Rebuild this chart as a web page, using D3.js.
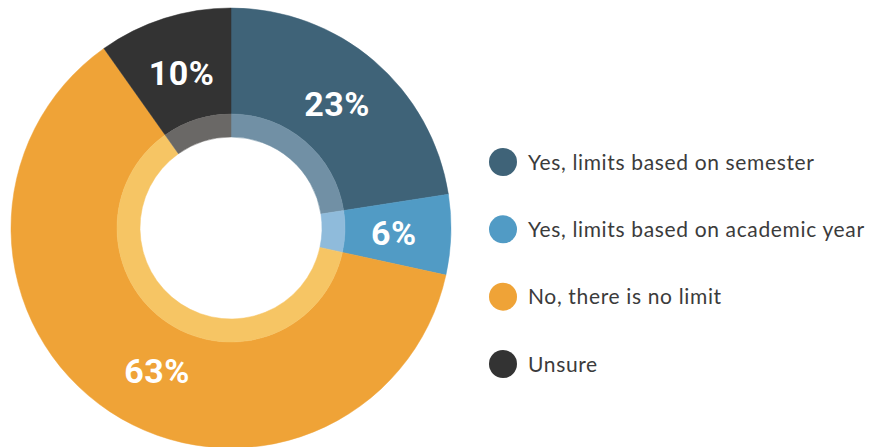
<!DOCTYPE html>
<html>
<head>
<meta charset="utf-8">
<script src="https://cdn.jsdelivr.net/npm/d3@7/dist/d3.min.js"></script>
<style>
  html, body { margin: 0; padding: 0; background: #ffffff; }
  svg { display: block; }
</style>
</head>
<body>
<svg id="chart" width="873" height="447"></svg>
<script>
// Survey answers and their shares
const categories = [
  "Yes, limits based on semester",
  "Yes, limits based on academic year",
  "No, there is no limit",
  "Unsure"
];
const values = [23, 6, 63, 10];
const valueLabels = ["23%", "6%", "63%", "10%"];
const colors = ["#3f6378", "#519bc5", "#efa337", "#333333"];
const innerColors = ["#7190a5", "#8fbbdb", "#f6c564", "#6a6866"];

const svg = d3.select("#chart");
const cx = 231, cy = 228;
const outerR = 220, bandR = 114, holeR = 91, labelR = 163;

const pie = d3.pie().sort(null).value(d => d.value);
const data = categories.map((c, i) => ({ name: c, value: values[i], i }));
const arcs = pie(data);

const g = svg.append("g").attr("transform", `translate(${cx},${cy})`);

const outerArc = d3.arc().innerRadius(bandR).outerRadius(outerR);
const innerArc = d3.arc().innerRadius(holeR).outerRadius(bandR);
const labelArc = d3.arc().innerRadius(labelR).outerRadius(labelR);

g.selectAll("path.outer")
  .data(arcs)
  .join("path")
  .attr("class", "outer")
  .attr("d", outerArc)
  .attr("fill", d => colors[d.data.i])
  .attr("stroke", d => colors[d.data.i])
  .attr("stroke-width", 0.5);

g.selectAll("path.inner")
  .data(arcs)
  .join("path")
  .attr("class", "inner")
  .attr("d", innerArc)
  .attr("fill", d => innerColors[d.data.i])
  .attr("stroke", d => innerColors[d.data.i])
  .attr("stroke-width", 0.5);

// the large slice's label sits a little further round, clear of the ring
const labelNudge = { 2: [16, 7] };

g.selectAll("text.pct")
  .data(arcs)
  .join("text")
  .attr("class", "pct")
  .attr("transform", d => {
    const [x, y] = labelArc.centroid(d);
    const [nx, ny] = labelNudge[d.data.i] || [0, 0];
    return `translate(${x + nx},${y + ny})`;
  })
  .attr("text-anchor", "middle")
  .attr("dy", "0.36em")
  .attr("fill", "#ffffff")
  .style("font-family", "Roboto, 'DejaVu Sans', sans-serif")
  .style("font-weight", 700)
  .style("font-size", "34px")
  .style("letter-spacing", "0.5px")
  .text(d => valueLabels[d.data.i]);

// Legend
const legendY = d3.scalePoint()
  .domain(categories)
  .range([162, 364]);

const legend = svg.append("g");
const items = legend.selectAll("g.item")
  .data(categories)
  .join("g")
  .attr("class", "item")
  .attr("transform", d => `translate(503,${legendY(d)})`);

items.append("circle")
  .attr("r", 14)
  .attr("fill", (d, i) => colors[i]);

items.append("text")
  .attr("x", 25)
  .attr("dy", "0.36em")
  .attr("fill", "#3b3b3b")
  .style("font-family", "Lato, 'Open Sans', sans-serif")
  .style("font-size", "21px")
  .style("letter-spacing", "0.65px")
  .text(d => d);
</script>
</body>
</html>
